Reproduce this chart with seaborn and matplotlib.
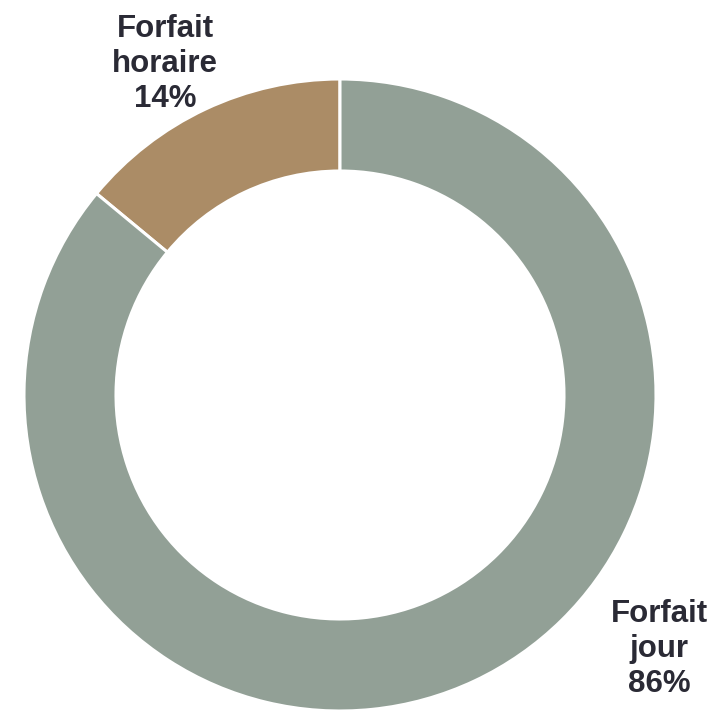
import matplotlib
matplotlib.use('Agg')
import matplotlib.pyplot as plt
import seaborn as sns

sns.set_theme(style="white")
plt.rcParams['font.family'] = ['Liberation Sans', 'DejaVu Sans']

# data
categories = ["Forfait horaire", "Forfait jour"]
shares = [14, 86]
label_lines = ["Forfait\nhoraire\n14%", "Forfait\njour\n86%"]
colors = sns.color_palette(["#AB8C66", "#92A096"])

fig = plt.figure(figsize=(7.24, 7.10), dpi=100)
ax = fig.add_axes([0, 0, 1, 1])

ax.pie(shares, colors=colors, startangle=90, counterclock=True,
       radius=316, center=(340, 315),
       wedgeprops=dict(width=92, edgecolor="white", linewidth=2.2))

# labels outside the ring
ax.text(165, 646, label_lines[0], ha="center", va="center", fontsize=22.5,
        fontweight="bold", color="#2A2A35", linespacing=1.22)
ax.text(659, 61, label_lines[1], ha="center", va="center", fontsize=22.5,
        fontweight="bold", color="#2A2A35", linespacing=1.22)

ax.set_xlim(0, 724)
ax.set_ylim(0, 710)
ax.set_aspect("equal")
ax.axis("off")

plt.savefig("out.png", dpi=100)
plt.close()
